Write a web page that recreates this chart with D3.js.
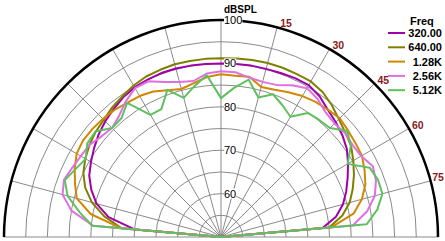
<!DOCTYPE html>
<html>
<head>
<meta charset="utf-8">
<script src="https://cdn.jsdelivr.net/npm/d3@7"></script>
<style>
body { margin: 0; background: #fff; }
svg { display: block; }
text { font-family: "Liberation Sans", Arial, sans-serif; }
</style>
</head>
<body>
<svg id="chart" width="445" height="241"></svg>
<script>
// measurement angles (deg, 0 = on axis) and SPL per frequency
const angles = [-90, -85, -80, -75, -70, -65, -60, -55, -50, -45, -40, -35, -30, -25, -20, -15, -10, -5, 0,
    5, 10, 15, 20, 25, 30, 35, 40, 45, 50, 55, 60, 65, 70, 75, 80, 85, 90];
const freqLabels = ['320.00', '640.00', '1.28K', '2.56K', '5.12K'];
const spl320 = [50, 70, 76.3, 79.7, 81.8, 83.5, 84.6, 85.7, 86.8, 87.7, 88.5, 89.3, 89.8, 90, 90.2, 90.2, 90.1, 90, 90,
    90, 90.1, 90.1, 90.2, 90.4, 90.4, 89.6, 88.3, 87.4, 86.5, 85.4, 83.8, 82.2, 80.7, 79.1, 76.9, 73.5, 50];
const spl640 = [50, 73, 77.3, 80.8, 83.3, 85, 86.1, 87, 87.7, 88.2, 89, 89.6, 90.3, 90.8, 91, 91.2, 91.2, 91.2, 91.2,
    91.3, 91.4, 91.5, 91.5, 91.4, 91.4, 90.8, 89.7, 88.4, 87.4, 86.6, 85.2, 83.8, 82.3, 80.7, 78.4, 75, 50];
const spl1k28 = [50, 73, 80.5, 84.4, 85.8, 87.2, 88.4, 88.8, 88.7, 88.5, 88.2, 87.7, 87.5, 87, 86, 85.3, 86, 87, 87.5,
    87.3, 87.5, 85.8, 86.1, 86.8, 87.5, 88, 88.3, 88.7, 88.2, 87.8, 87.5, 86.5, 85.4, 83.6, 81, 75.5, 50];
const spl2k56 = [50, 79.5, 85, 87.8, 88.5, 87.8, 87.3, 87, 86, 85.5, 86.5, 88.2, 89.6, 89.6, 88, 87, 86.5, 87.8, 88.2,
    88.1, 87.3, 87, 87.3, 88.6, 89.6, 88.8, 87.5, 87, 87.3, 87, 87.3, 88.6, 88, 86.7, 84.2, 80.5, 50];
const spl5k12 = [50, 79.8, 83.1, 86.6, 88.3, 87, 86, 87.6, 87.8, 85.5, 85.7, 87.7, 82.5, 82.5, 86.1, 83.2, 85.3, 87.4, 82,
    84.5, 86.8, 83.3, 85, 83.5, 82, 84.9, 85.2, 85.5, 88, 86.5, 83.7, 87.8, 88.5, 88.5, 86.6, 83.7, 50];
const ringTicks = [55, 60, 65, 70, 75, 80, 85, 90, 95];
const ringLabels = [60, 70, 80, 90, 100];
const spokeAngles = [-90, -75, -60, -45, -30, -15, 0, 15, 30, 45, 60, 75, 90];
const angleLabels = [15, 30, 45, 60, 75];

const series = [spl320, spl640, spl1k28, spl2k56, spl5k12];
const colors = ['#a000a8', '#808000', '#d08800', '#e070e0', '#60c060'];

const cx = 221, cy = 237, R = 217;
const svg = d3.select('#chart');
const rScale = d3.scaleLinear().domain([50, 100]).range([0, R]).clamp(true);
const rad = d => d * Math.PI / 180;

const g = svg.append('g').attr('transform', `translate(${cx},${cy})`);

// grid rings
function halfCircle(r) {
    const p = d3.path();
    p.moveTo(-r, 0);
    p.arc(0, 0, r, Math.PI, 2 * Math.PI);
    return p.toString();
}
g.selectAll('path.ring').data(ringTicks).enter().append('path')
    .attr('class', 'ring')
    .attr('d', d => halfCircle(rScale(d)))
    .attr('fill', 'none').attr('stroke', '#8a8a8a').attr('stroke-width', 1);

// spokes
g.selectAll('line.spoke').data(spokeAngles).enter().append('line')
    .attr('class', 'spoke')
    .attr('x1', 0).attr('y1', 0)
    .attr('x2', d => R * Math.sin(rad(d)))
    .attr('y2', d => -R * Math.cos(rad(d)))
    .attr('stroke', '#8a8a8a').attr('stroke-width', 1);

// curves
const line = d3.lineRadial()
    .angle((d, i) => rad(angles[i]))
    .radius(d => rScale(d));
g.selectAll('path.curve').data(series).enter().append('path')
    .attr('class', 'curve')
    .attr('d', d => line(d))
    .attr('fill', 'none')
    .attr('stroke', (d, i) => colors[i])
    .attr('stroke-width', 2)
    .attr('stroke-linejoin', 'round');

// outer 100 dB arc
g.append('path')
    .attr('d', halfCircle(R))
    .attr('fill', 'none').attr('stroke', '#000').attr('stroke-width', 2.5);

// radial labels with opaque background
const rl = g.selectAll('g.rlab').data(ringLabels).enter().append('g')
    .attr('class', 'rlab')
    .attr('transform', d => `translate(3,${-rScale(d)})`);
rl.append('text')
    .attr('y', 4)
    .attr('font-size', 11)
    .attr('fill', '#000')
    .text(d => d)
    .each(function () {
        const b = this.getBBox();
        d3.select(this.parentNode).insert('rect', 'text')
            .attr('x', b.x).attr('y', b.y + 1).attr('width', b.width).attr('height', b.height - 2)
            .attr('fill', '#fff');
    });

// angle labels, kept inside the right edge
g.selectAll('text.alab').data(angleLabels).enter().append('text')
    .attr('class', 'alab')
    .attr('x', d => R * Math.sin(rad(d)) + 3)
    .attr('y', d => -R * Math.cos(rad(d)))
    .attr('font-size', 10.5).attr('font-weight', 'bold')
    .attr('fill', '#8b1a1a')
    .text(d => d)
    .each(function () {
        const b = this.getBBox();
        const over = cx + b.x + b.width - 444;
        if (over > 0) d3.select(this).attr('x', +d3.select(this).attr('x') - over);
    });

svg.append('text')
    .attr('x', 224).attr('y', 13)
    .attr('font-size', 10).attr('font-weight', 'bold')
    .text('dBSPL');

// legend
const legend = svg.append('g');
legend.append('text')
    .attr('x', 410).attr('y', 25)
    .attr('font-size', 11).attr('font-weight', 'bold')
    .text('Freq');
const items = legend.selectAll('g.item').data(freqLabels).enter().append('g')
    .attr('class', 'item')
    .attr('transform', (d, i) => `translate(0,${33 + i * 14.3})`);
items.append('line')
    .attr('x1', 388).attr('x2', 405)
    .attr('stroke', (d, i) => colors[i]).attr('stroke-width', 2);
items.append('text')
    .attr('x', 442).attr('y', 4)
    .attr('text-anchor', 'end')
    .attr('font-size', 11).attr('font-weight', 'bold')
    .text(d => d);
</script>
</body>
</html>
